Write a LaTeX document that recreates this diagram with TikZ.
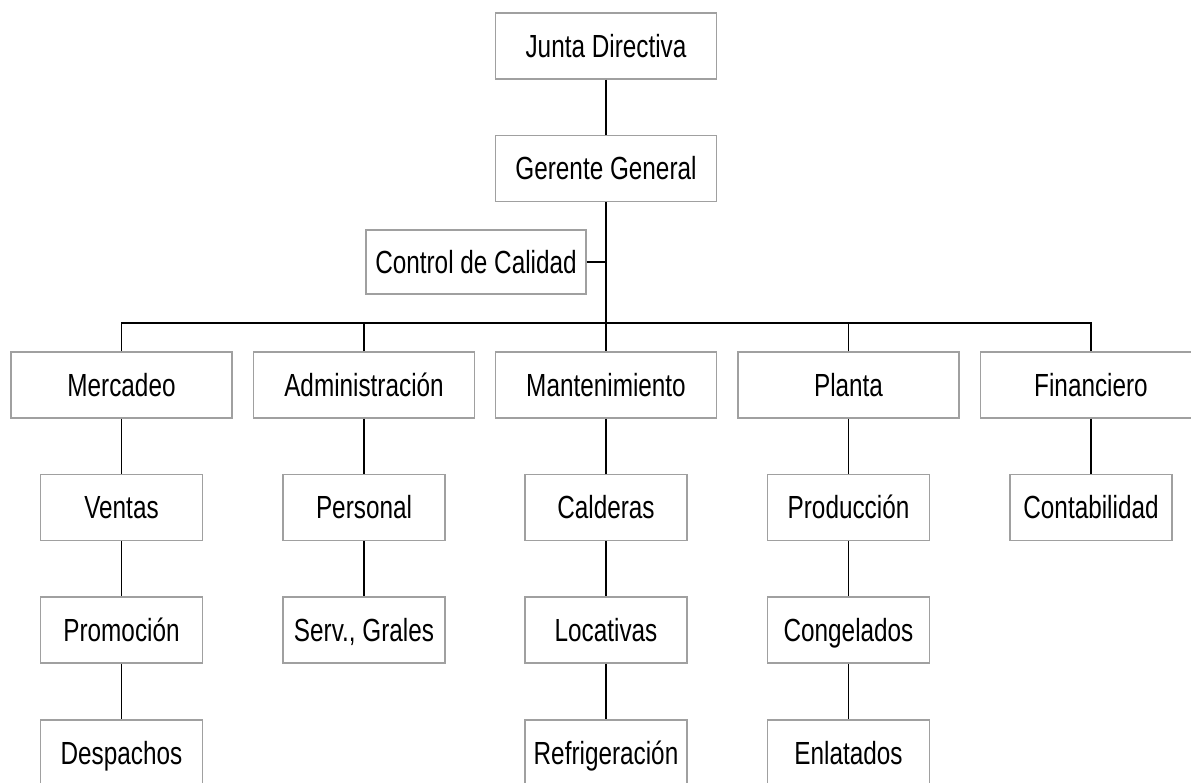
\documentclass[tikz,border=0pt]{standalone}
\usepackage{fontspec}
\setmainfont[FakeStretch=0.76]{Liberation Sans}
\definecolor{boxgray}{HTML}{A0A0A0}
\begin{document}
\begin{tikzpicture}[x=1pt,y=-1pt,
  box/.style={draw=boxgray, line width=1.4pt, minimum height=66pt, inner sep=0pt,
    text height=24pt, text depth=2pt,
    font=\fontsize{32}{36}\selectfont, text=black},
  wide/.style={box, minimum width=221pt},
  narrow/.style={box, minimum width=162pt},
  link/.style={line width=1.3pt, draw=black}]
\useasboundingbox (0,0) rectangle (1191,782);
\clip (0,0) rectangle (1191,782);
% top
\node[wide] (junta) at (606,46) {Junta Directiva};
\node[wide] (gerente) at (606,168.5) {Gerente General};
\node[box, minimum width=220pt, minimum height=64pt] (control) at (476,262) {Control de Calidad};
\coordinate (bus) at (606,323);
% row 1
\node[wide] (merc) at (121.5,385) {Mercadeo};
\node[wide] (admin) at (364,385) {Administración};
\node[wide] (mant) at (606,385) {Mantenimiento};
\node[wide] (planta) at (848.5,385) {Planta};
\node[wide] (fin) at (1091,385) {Financiero};
% row 2
\node[narrow] (ventas) at (121.5,507.5) {Ventas};
\node[narrow] (personal) at (364,507.5) {Personal};
\node[narrow] (calderas) at (606,507.5) {Calderas};
\node[narrow] (produccion) at (848.5,507.5) {Producción};
\node[narrow] (contab) at (1091,507.5) {Contabilidad};
% row 3
\node[narrow] (promo) at (121.5,630) {Promoción};
\node[narrow] (serv) at (364,630) {Serv., Grales};
\node[narrow] (locat) at (606,630) {Locativas};
\node[narrow] (congel) at (848.5,630) {Congelados};
% row 4
\node[narrow] (desp) at (121.5,753) {Despachos};
\node[narrow] (refri) at (606,753) {Refrigeración};
\node[narrow] (enlat) at (848.5,753) {Enlatados};
% connectors
\draw[link] (junta) -- (gerente);
\draw[link] (gerente) -- (mant);
\draw[link] (control.east) -- (control.east -| gerente.south);
\draw[link] (merc.north) -- (merc.north |- bus) -- (fin.north |- bus) -- (fin.north);
\draw[link] (admin.north) -- (admin.north |- bus);
\draw[link] (planta.north) -- (planta.north |- bus);
\draw[link] (merc) -- (ventas);
\draw[link] (ventas) -- (promo);
\draw[link] (promo) -- (desp);
\draw[link] (admin) -- (personal);
\draw[link] (personal) -- (serv);
\draw[link] (mant) -- (calderas);
\draw[link] (calderas) -- (locat);
\draw[link] (locat) -- (refri);
\draw[link] (planta) -- (produccion);
\draw[link] (produccion) -- (congel);
\draw[link] (congel) -- (enlat);
\draw[link] (fin) -- (contab);
\end{tikzpicture}
\end{document}
